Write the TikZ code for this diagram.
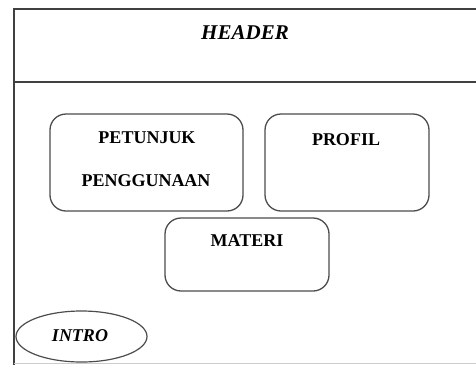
\documentclass[tikz,border=0pt]{standalone}
\usepackage{fontspec}
\setmainfont{Liberation Serif}
\usetikzlibrary{shapes.geometric}
\begin{document}
\begin{tikzpicture}[x=1pt,y=-1pt,
    frameline/.style={draw=black!75, line width=1.4pt},
    menubox/.style={draw=black!70, line width=1.3pt, rounded corners=16pt},
    menutext/.style={font=\fontsize{18}{20}\selectfont\bfseries, inner sep=0pt, anchor=base}]
        \useasboundingbox (0,0) rectangle (476,365);
        \draw[frameline] (476,9) -- (14,9) -- (14,365);
        \draw[frameline] (14,82) -- (476,82);
        \draw[draw=black!20, line width=1pt] (14,363) -- (476,363);
        \node[menutext, font=\fontsize{21}{24}\selectfont\bfseries\itshape] (header) at (245,39) {HEADER};
        \node[menubox, minimum width=193pt, minimum height=97pt] (petunjuk) at (146.5,162.5) {};
        \node[menubox, minimum width=164pt, minimum height=97pt] (profil) at (347,162.5) {};
        \node[menubox, minimum width=164pt, minimum height=73pt] (materi) at (247,254.5) {};
        \node[draw=black!70, line width=1.2pt, ellipse, minimum width=131pt, minimum height=51pt] (intro) at (81.5,336.5) {};
        \node[menutext] (petunjuk-a) at (147,143) {PETUNJUK};
        \node[menutext] (petunjuk-b) at (146,186) {PENGGUNAAN};
        \node[menutext] (profil-a) at (346,145) {PROFIL};
        \node[menutext] (materi-a) at (247,246.5) {MATERI};
        \node[menutext, font=\fontsize{18}{20}\selectfont\bfseries\itshape] (intro-a) at (80,341) {INTRO};
    \end{tikzpicture}
\end{document}
